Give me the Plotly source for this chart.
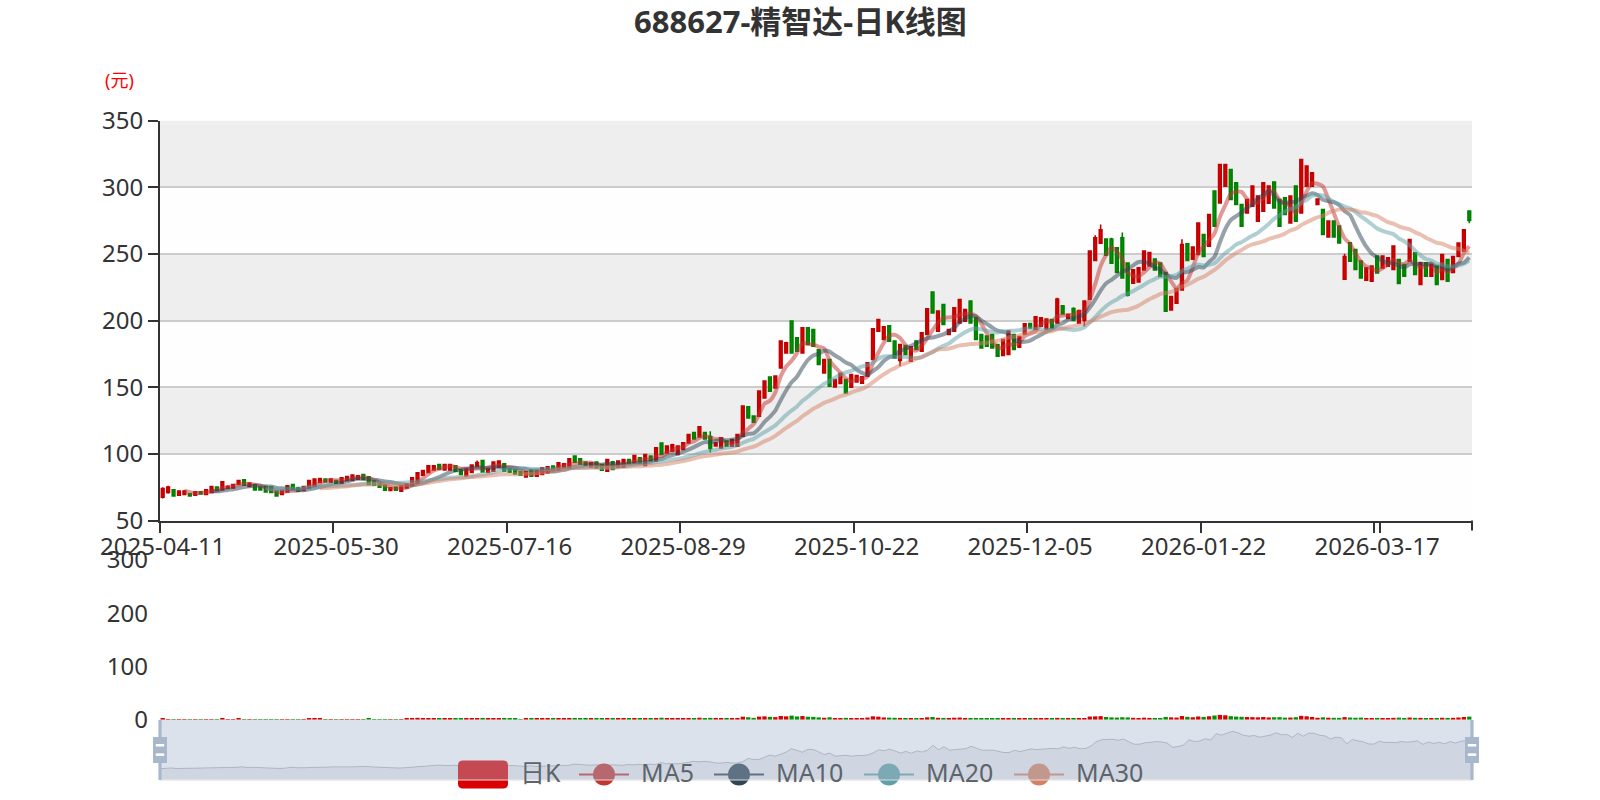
import plotly.graph_objects as go
import pandas as pd

W, H = 1600, 800
def fx(x):
    return x / W
def fy(y):
    return 1 - y / H

FONT = "Noto Sans, Noto Sans CJK SC, sans-serif"
TITLE = "688627-精智达-日K线图"
UNIT = "(元)"

HOLIDAYS = ["2025-05-01", "2025-05-02", "2025-05-05", "2025-06-02",
            "2025-10-01", "2025-10-02", "2025-10-03", "2025-10-06", "2025-10-07", "2025-10-08",
            "2026-01-01", "2026-01-02", "2026-02-16", "2026-02-17", "2026-02-18", "2026-02-19",
            "2026-02-20", "2026-02-23", "2026-04-06"]
DATES = [d.strftime("%Y-%m-%d") for d in pd.bdate_range("2025-04-11", "2026-04-10")
         if d.strftime("%Y-%m-%d") not in HOLIDAYS]

OPEN = [
    67.5, 71, 73, 69, 69.5, 70, 69, 71.5, 69.5, 71,
    75, 73, 74, 74.5, 77, 80.5, 75.5, 77, 75, 75.5,
    75, 72, 69.5, 71.5, 77, 74.5, 72.5, 74.5, 76, 78.5,
    81, 79, 80, 78, 80, 80, 81, 84.5, 82.75, 79.5,
    78, 76.5, 72.5, 75, 72, 74.5, 76.25, 78, 84, 86,
    88, 92, 88, 88, 91, 88, 83.5, 86, 90.5, 95,
    86, 87, 90, 92.5, 88.75, 88, 86.25, 82.75, 87.75, 83.25,
    84.5, 85.75, 90.75, 87.75, 89.5, 89.5, 98.25, 96.25, 93.75, 90.25,
    93.75, 92, 87, 94, 90, 90, 95.75, 93.25, 97, 91.25,
    98.25, 94.5, 108, 100.75, 102, 99.5, 103.25, 108.25, 116, 112.75,
    116, 113, 106, 104.5, 109.5, 105.75, 105.75, 113.25, 135.25, 128.25,
    128.25, 142, 157.5, 149.5, 164.5, 175.75, 199.5, 187, 175.75, 194.5,
    193.25, 178, 160.75, 170.75, 150.25, 152.75, 155.75, 150, 154, 153,
    158.25, 170.75, 192, 185.75, 196, 184.5, 170, 181.25, 169.5, 184.5,
    177, 189.5, 221.25, 192, 212, 189.5, 192, 198.25, 199.5, 214.5,
    202, 189.5, 188.25, 189.5, 182, 173.75, 174.5, 189.5, 180, 190,
    197.75, 193.25, 195.75, 193.75, 200.75, 198.25, 211, 201.5, 209, 198,
    200, 216, 245, 258, 261, 261, 254.5, 262, 243, 228,
    229, 238, 241, 246, 243, 236, 208, 213, 223, 257.5,
    246, 249.5, 264.5, 255.75, 297, 288.25, 300.75, 313.25, 303.25, 287,
    280.75, 285.75, 274.5, 282, 288, 303.75, 290.75, 292, 273.25, 300.75,
    280.75, 300.75, 300.75, 287, 283.25, 262.75, 274.5, 270.75, 231, 258.25,
    253.25, 244.5, 230.25, 229.5, 248.25, 239.5, 240.75, 238.25, 245.75, 242,
    244.5, 250.75, 227, 243.25, 233.25, 240.75, 230.75, 245.75, 236, 248,
    252, 282]

CLOSE = [
    74, 75, 68.5, 72, 72, 68.5, 71.5, 70, 73, 75.5,
    72.5, 79, 75.5, 77, 80, 76.5, 78, 73, 73, 71.5,
    71, 68.5, 72.5, 76, 73.5, 72, 75.5, 80, 81, 81.5,
    79, 81, 78, 82, 83, 84, 83.5, 80.75, 77, 76.5,
    75, 72.75, 74.5, 72.75, 75.75, 77.5, 82, 85.75, 87.5, 91,
    91, 88.5, 92, 92, 87, 84.5, 88.5, 91.5, 93.5, 86.5,
    89, 93.75, 94.5, 87, 86.25, 85, 84, 86.5, 83.25, 87.5,
    89.5, 90.25, 87.75, 93.25, 92.5, 96.25, 93.75, 92.5, 91.5, 93.25,
    89.5, 87.75, 95.75, 88.25, 94.5, 95.75, 92.75, 98.75, 93.25, 99.5,
    94.5, 104.5, 99.5, 105.75, 106.75, 105.75, 108.25, 114.5, 111.25, 120.25,
    111.25, 104, 108.25, 112, 105.75, 110.75, 114.5, 135.75, 127, 123.75,
    147, 154.5, 147, 158.25, 184.5, 183.25, 175.75, 177, 194.5, 182,
    180.75, 167, 170.75, 150.75, 155.75, 160.25, 145.75, 159.5, 158.75, 157.75,
    168.25, 193.75, 200.75, 195.25, 184.5, 172, 182, 174.5, 180.25, 178.25,
    190.75, 208.75, 205.75, 207, 197, 193.25, 209.5, 215.75, 208.25, 198.25,
    185.75, 179.5, 180.75, 179.5, 173.25, 185.75, 192, 178.25, 188, 197.5,
    194.5, 202.75, 202, 201, 194.5, 216, 205, 204.5, 200, 207.5,
    214.5, 252, 262, 268, 249, 243, 236, 232, 219, 238,
    239.5, 252, 251, 238, 233, 207, 218, 224, 257, 245,
    255, 273, 248, 279.5, 270.75, 317, 317, 290.75, 287, 270.75,
    290.75, 300.75, 293.25, 303.25, 300.75, 284.5, 270.75, 279.5, 293.25, 274.5,
    320.75, 315.75, 310.75, 291, 264.5, 274.5, 262.75, 258.25, 248, 244.5,
    238.25, 232, 239.5, 240.75, 235.75, 248.25, 247, 255.75, 227.75, 233.25,
    260.75, 234.5, 243.25, 233.25, 242, 227, 249.5, 229.5, 248, 258,
    268, 275]

HIGH = [
    75, 76, 73.5, 72.5, 72.8, 70.5, 72, 72, 73.5, 76,
    75.5, 79.5, 76.5, 77.5, 80.5, 81, 78.5, 77.5, 75.5, 76,
    75.5, 72.5, 73, 76.5, 77.5, 75, 76, 80.5, 81.5, 82,
    81.5, 81.5, 80.5, 82.5, 83.5, 84.5, 84, 85, 83.25, 80,
    78.5, 77, 75, 75.5, 76.25, 78, 82.5, 86.25, 88, 91.5,
    91.5, 92.5, 92.5, 92.5, 91.5, 88.5, 89, 92, 95, 95.5,
    89.5, 94.25, 95, 93, 89.25, 88.5, 86.75, 87, 88.25, 88,
    90, 90.75, 91.25, 93.75, 93, 96.75, 98.75, 96.75, 94.25, 93.75,
    94.25, 92.5, 96.25, 94.5, 95, 96.25, 96.25, 99.25, 97.5, 100,
    98.75, 105, 108.5, 106.25, 107.5, 106.25, 108.75, 115, 116.5, 120.75,
    116.5, 117, 108.75, 112.5, 110, 111.25, 115, 136.25, 135.75, 128.75,
    147.5, 155, 158, 158.75, 185, 184, 200, 187.5, 195, 195,
    193.75, 178.5, 171.25, 171.25, 156.25, 160.75, 156.25, 160, 159.25, 158.25,
    168.75, 194.25, 201.25, 195.75, 196.5, 185, 182.5, 181.75, 180.75, 185,
    191.25, 209.25, 221.75, 207.5, 212.5, 193.75, 210, 216.25, 208.75, 215,
    202.5, 190, 188.75, 190, 182.5, 186.25, 192.5, 190, 188.5, 198,
    198.25, 203.25, 202.5, 201.5, 201.25, 217, 211.5, 205, 210, 208,
    215, 252.5, 264, 272, 261.5, 262, 255, 266, 243.5, 238.5,
    240, 252.5, 251.5, 246.5, 243.5, 236.5, 218.5, 224.5, 261, 258,
    255.5, 273.5, 265, 280, 297.5, 317.5, 317.5, 313.75, 303.75, 287.5,
    291.25, 301.25, 293.75, 303.75, 301.25, 304.25, 291.25, 292.5, 293.75, 301.25,
    321.25, 316.25, 311.25, 291.5, 283.75, 275, 275, 271.25, 250, 258.75,
    253.75, 245, 240, 241.25, 248.75, 248.75, 247.5, 256.25, 246.25, 242.5,
    261.25, 251.25, 243.75, 243.75, 242.5, 241.25, 250, 246.25, 248.5, 258.5,
    268.5, 282.5]

LOW = [
    66.5, 70, 68, 68.5, 69, 68, 68.5, 69.5, 69, 70.5,
    72, 72.5, 73.5, 74, 76.5, 76, 75, 72.5, 72.5, 71,
    70.5, 68, 69, 71, 73, 71.5, 72, 74, 75.5, 78,
    78.5, 78.5, 77.5, 77.5, 79.5, 79.5, 80.5, 80.25, 76.5, 76,
    74.5, 72.25, 72, 72.25, 71.5, 74, 75.75, 77.5, 83.5, 85.5,
    87.5, 88, 87.5, 87.5, 86.5, 84, 83, 85.5, 90, 86,
    85.5, 86.5, 89.5, 86.5, 85.75, 84.5, 83.5, 82.25, 82.75, 82.75,
    84, 85.25, 87.25, 87.25, 89, 89, 93.25, 92, 91, 89.75,
    89, 87.25, 86.5, 87.75, 89.5, 89.5, 92.25, 92.75, 92.75, 90.75,
    94, 94, 99, 100.25, 101.5, 99, 102.75, 107.75, 110.75, 112.25,
    110.75, 101, 105.5, 104, 105.25, 105.25, 105.25, 112.75, 126.5, 123.25,
    127.75, 141.5, 146.5, 149, 164, 175.25, 175.25, 176.5, 175.25, 181.5,
    180.25, 166.5, 160.25, 150.25, 149.75, 152.25, 145.25, 149.5, 153.5, 152.5,
    157.75, 170.25, 191.5, 185.25, 184, 171.5, 165.75, 174, 169, 177.75,
    176.5, 189, 205.25, 191.5, 196.5, 189, 191.5, 197.75, 199, 197.75,
    185.25, 179, 180.25, 179, 172.75, 173.25, 174, 177.75, 179.5, 189.5,
    194, 192.75, 195.25, 193.25, 194, 197.75, 204.5, 201, 199.5, 197.5,
    195.5, 215.5, 244.5, 257.5, 248.5, 242.5, 235.5, 231.5, 218, 227.5,
    228.5, 237.5, 240.5, 237.5, 232.5, 206.5, 207.5, 212.5, 222.5, 244.5,
    245.5, 249, 247.5, 255.25, 270.25, 287.75, 300.25, 290.25, 286.5, 270.25,
    280.25, 285.25, 274, 281.5, 287.5, 284, 270.25, 279, 272.75, 274,
    280.25, 300.25, 300.25, 286.5, 264, 262.25, 262.25, 257.75, 230.5, 244,
    237.75, 231.5, 229.75, 229, 235.25, 239, 240.25, 237.75, 227.25, 232.75,
    244, 234, 226.5, 232.75, 232.75, 226.5, 230.25, 229, 235.5, 247.5,
    251.5, 273]

VOLUME = [
    2.2, 1.8, 1.5, 1.2, 1.4, 1.1, 1.3, 1.2, 1.6, 1.8,
    1.5, 2.4, 1.6, 1.3, 1.9, 1.7, 1.4, 1.5, 1.2, 1.3,
    1.4, 1.6, 1.3, 1.8, 1.5, 1.2, 1.4, 2.3, 2.6, 1.9,
    1.5, 1.3, 1.2, 1.7, 1.6, 1.8, 1.4, 1.5, 1.9, 1.6,
    1.4, 1.7, 1.3, 1.2, 1.5, 2.2, 3.4, 4.1, 3.6, 3.8,
    3.1, 2.8, 2.6, 2.9, 2.4, 2.2, 2.7, 3.0, 2.8, 3.9,
    2.5, 2.8, 2.6, 2.9, 2.2, 2.0, 1.8, 2.1, 2.3, 2.0,
    2.4, 2.5, 2.1, 2.6, 2.2, 3.0, 2.8, 2.3, 2.0, 2.1,
    2.4, 2.2, 3.1, 2.6, 2.3, 2.5, 2.1, 2.7, 2.4, 3.2,
    2.6, 3.8, 4.2, 3.0, 2.8, 3.1, 2.9, 3.6, 3.4, 4.3,
    3.5, 4.0, 2.8, 3.0, 2.6, 2.9, 3.3, 6.2, 5.1, 4.0,
    6.4, 6.8, 5.9, 5.4, 7.6, 6.9, 8.2, 6.6, 7.4, 6.1,
    5.8, 4.9, 4.2, 5.1, 3.8, 3.6, 4.0, 3.2, 2.9, 2.7,
    4.6, 6.9, 6.2, 4.8, 4.4, 4.1, 3.9, 3.3, 3.5, 3.0,
    3.8, 5.0, 5.6, 4.1, 3.9, 3.2, 4.3, 4.6, 3.7, 3.8,
    3.6, 3.1, 2.8, 3.0, 2.9, 3.2, 3.6, 3.0, 2.7, 2.9,
    2.6, 3.2, 2.8, 2.6, 2.4, 4.0, 3.4, 2.8, 3.1, 3.0,
    3.5, 6.5, 6.8, 7.2, 5.6, 4.9, 4.5, 5.2, 4.8, 4.1,
    3.6, 4.4, 3.9, 3.5, 3.4, 5.8, 5.0, 4.6, 7.4, 5.9,
    5.1, 6.6, 5.8, 7.0, 8.4, 9.6, 8.8, 7.2, 6.4, 6.0,
    5.6, 5.4, 5.0, 5.6, 4.8, 5.1, 5.3, 4.4, 4.6, 5.2,
    7.8, 6.9, 5.7, 4.2, 5.0, 4.3, 4.1, 4.0, 5.4, 4.6,
    4.2, 4.5, 3.8, 3.6, 3.9, 3.4, 3.2, 4.1, 4.4, 3.5,
    4.6, 4.0, 3.9, 3.3, 3.6, 3.8, 4.2, 3.9, 4.1, 4.7,
    5.6, 6.3]

N = len(DATES)
for arr in (OPEN, CLOSE, HIGH, LOW, VOLUME):
    assert len(arr) == N, (len(arr), N)

MA_PERIODS = [5, 10, 20, 30]
MA_NAMES = ["MA5", "MA10", "MA20", "MA30"]
MA_COLORS = ["#c23531", "#2f4554", "#61a0a8", "#d48265"]
UP_FILL, UP_LINE = "#d80000", "#c20000"
DN_FILL, DN_LINE = "#009200", "#007f00"
YTICKS = [50, 100, 150, 200, 250, 300, 350]
VTICKS = [0, 100, 200, 300]

# pixel layout (1600x800)
PL, PR = 160, 1472
MAIN_T, MAIN_B = 120.5, 520.5
VOL_T, VOL_B = 560, 720
SL_T, SL_B = 720, 780

fig = go.Figure()

fig.add_trace(go.Candlestick(
    x=DATES, open=OPEN, high=HIGH, low=LOW, close=CLOSE, name="日K",
    increasing=dict(line=dict(color=UP_LINE, width=1.6), fillcolor=UP_FILL),
    decreasing=dict(line=dict(color=DN_LINE, width=1.6), fillcolor=DN_FILL),
    whiskerwidth=0, xaxis="x", yaxis="y", showlegend=False))

close_s = pd.Series(CLOSE, dtype=float)
for p, name, col in zip(MA_PERIODS, MA_NAMES, MA_COLORS):
    ma = close_s.rolling(p).mean().round(3)
    fig.add_trace(go.Scatter(
        x=DATES, y=[None if pd.isna(v) else v for v in ma], mode="lines", name=name,
        line=dict(color=col, width=4, shape="spline", smoothing=0.6),
        opacity=0.5, xaxis="x", yaxis="y", showlegend=False))

vol_colors = [UP_FILL if c >= o else DN_FILL for o, c in zip(OPEN, CLOSE)]
fig.add_trace(go.Bar(x=DATES, y=VOLUME, marker=dict(color=vol_colors, line=dict(width=0)),
                     xaxis="x2", yaxis="y2", showlegend=False))

# data-zoom slider shadow
lo, hi = min(OPEN), max(OPEN)
pad = (hi - lo) * 0.3
fig.add_trace(go.Scatter(
    x=list(range(N)), y=OPEN, mode="lines",
    line=dict(color="rgba(47,69,84,0.35)", width=1),
    fill="tozeroy", fillcolor="rgba(47,69,84,0.10)",
    xaxis="x3", yaxis="y3", showlegend=False, hoverinfo="skip"))

shapes = []
# split areas
for i in range(len(YTICKS) - 1):
    shapes.append(dict(type="rect", xref="x domain", yref="y", x0=0, x1=1,
                       y0=YTICKS[i], y1=YTICKS[i + 1], layer="below", line=dict(width=0),
                       fillcolor="#fefefe" if i % 2 == 0 else "#eeeeee"))
# end tick of category axis
shapes.append(dict(type="line", xref="paper", yref="paper", x0=fx(PR), x1=fx(PR),
                   y0=fy(MAIN_B), y1=fy(MAIN_B + 10), line=dict(color="#333", width=2)))

# legend (drawn beneath slider filler like the original)
LEG_Y = 774.5
LEG_TY = 772
def rrect(x0, y0, x1, y1, r):
    pts = [("M", x0 + r, y0), ("L", x1 - r, y0), ("Q", x1, y0, x1, y0 + r), ("L", x1, y1 - r),
           ("Q", x1, y1, x1 - r, y1), ("L", x0 + r, y1), ("Q", x0, y1, x0, y1 - r),
           ("L", x0, y0 + r), ("Q", x0, y0, x0 + r, y0)]
    s = ""
    for p in pts:
        if p[0] == "Q":
            s += f"Q{fx(p[1]):.5f},{fy(p[2]):.5f} {fx(p[3]):.5f},{fy(p[4]):.5f} "
        else:
            s += f"{p[0]}{fx(p[1]):.5f},{fy(p[2]):.5f} "
    return s + "Z"

shapes.append(dict(type="path", xref="paper", yref="paper",
                   path=rrect(458, LEG_Y - 14, 508, LEG_Y + 14, 5),
                   fillcolor=UP_FILL, line=dict(width=0)))
LEG_ICON_X = [579, 714, 864, 1014]
for x0, col in zip(LEG_ICON_X, MA_COLORS):
    shapes.append(dict(type="line", xref="paper", yref="paper", x0=fx(x0), x1=fx(x0 + 50),
                       y0=fy(LEG_Y), y1=fy(LEG_Y), line=dict(color=col, width=2)))
    cx, r = x0 + 25, 11
    shapes.append(dict(type="circle", xref="paper", yref="paper", x0=fx(cx - r), x1=fx(cx + r),
                       y0=fy(LEG_Y + r), y1=fy(LEG_Y - r), fillcolor=col, line=dict(width=0)))

# slider frame + filler
shapes.append(dict(type="rect", xref="paper", yref="paper", x0=fx(PL), x1=fx(PR),
                   y0=fy(SL_B), y1=fy(SL_T), fillcolor="rgba(167,183,204,0.4)",
                   line=dict(color="#dddddd", width=1)))
# handles
HC = "#a7b7cc"
for hx in (PL, PR):
    shapes.append(dict(type="rect", xref="paper", yref="paper", x0=fx(hx - 1.6), x1=fx(hx + 1.6),
                       y0=fy(SL_B), y1=fy(SL_T), fillcolor=HC, line=dict(width=0)))
    shapes.append(dict(type="rect", xref="paper", yref="paper", x0=fx(hx - 7), x1=fx(hx + 7),
                       y0=fy(763), y1=fy(737), fillcolor=HC, line=dict(width=0)))
    for yy in (744, 753.4):
        shapes.append(dict(type="rect", xref="paper", yref="paper", x0=fx(hx - 4.2), x1=fx(hx + 4.2),
                           y0=fy(yy + 2.5), y1=fy(yy), fillcolor="#ffffff", line=dict(width=0)))

annotations = [
    dict(text=f"<b>{TITLE}</b>", x=0.5, y=fy(21.5), xref="paper", yref="paper",
         xanchor="center", yanchor="middle", showarrow=False,
         font=dict(family=FONT, size=31, color="#333")),
    dict(text=UNIT, x=fx(119.5), y=fy(79.5), xref="paper", yref="paper",
         xanchor="center", yanchor="middle", showarrow=False,
         font=dict(family=FONT, size=18, color="#ff0000")),
]
LEG_TEXT = ["日K"] + MA_NAMES
LEG_TEXT_X = [518, 639, 774, 924, 1074]
for t, x in zip(LEG_TEXT, LEG_TEXT_X):
    annotations.append(dict(text=t, x=fx(x), y=fy(LEG_TY), xref="paper", yref="paper",
                            xanchor="left", yanchor="middle", showarrow=False,
                            font=dict(family=FONT, size=25, color="#5d646c")))

tickdates = DATES[::32]
fig.update_layout(
    width=W, height=H, autosize=False,
    margin=dict(l=0, r=0, t=0, b=0, pad=0, autoexpand=False),
    paper_bgcolor="white", plot_bgcolor="white", showlegend=False,
    font=dict(family=FONT, color="#333"),
    bargap=0.2,
    xaxis=dict(domain=[fx(PL), fx(PR)], anchor="y", type="category", automargin=False,
               categoryorder="array", categoryarray=DATES, range=[-0.5, N - 0.5],
               tickmode="array", tickvals=tickdates, ticktext=tickdates, tickson="boundaries",
               tickangle=0,
               ticks="outside", ticklen=10, tickwidth=2, tickcolor="#333",
               showline=True, linecolor="#333", linewidth=2, showgrid=False, zeroline=False,
               tickfont=dict(family=FONT, size=24, color="#333"), ticklabelstandoff=4,
               rangeslider=dict(visible=False), fixedrange=True),
    yaxis=dict(domain=[fy(MAIN_B), fy(MAIN_T)], anchor="x", range=[50, 350], automargin=False,
               tickmode="array", tickvals=YTICKS, ticks="outside", ticklen=10, tickwidth=2,
               tickcolor="#333", showline=True, linecolor="#333", linewidth=2,
               showgrid=True, gridcolor="#cccccc", gridwidth=2, zeroline=False,
               tickfont=dict(family=FONT, size=24, color="#333"), ticklabelstandoff=0),
    xaxis2=dict(domain=[fx(PL), fx(PR)], anchor="y2", type="category", matches="x",
                automargin=False,
                categoryorder="array", categoryarray=DATES, showticklabels=False,
                ticks="", showline=False, showgrid=False, zeroline=False),
    yaxis2=dict(domain=[fy(VOL_B), fy(VOL_T)], anchor="x2", range=[0, 300], automargin=False,
                tickmode="array", tickvals=VTICKS, ticks="", showline=False,
                showgrid=False, zeroline=False,
                tickfont=dict(family=FONT, size=24, color="#333"), ticklabelstandoff=11),
    xaxis3=dict(domain=[fx(PL), fx(PR)], anchor="y3", range=[0, N - 1], visible=False,
                automargin=False),
    yaxis3=dict(domain=[fy(SL_B), fy(SL_T)], anchor="x3", range=[lo - pad, hi + pad],
                visible=False, automargin=False),
    shapes=shapes, annotations=annotations,
)

fig.write_html("out.html", config={"displayModeBar": False},
               post_script="document.body.style.margin='0';document.body.style.padding='0';")
